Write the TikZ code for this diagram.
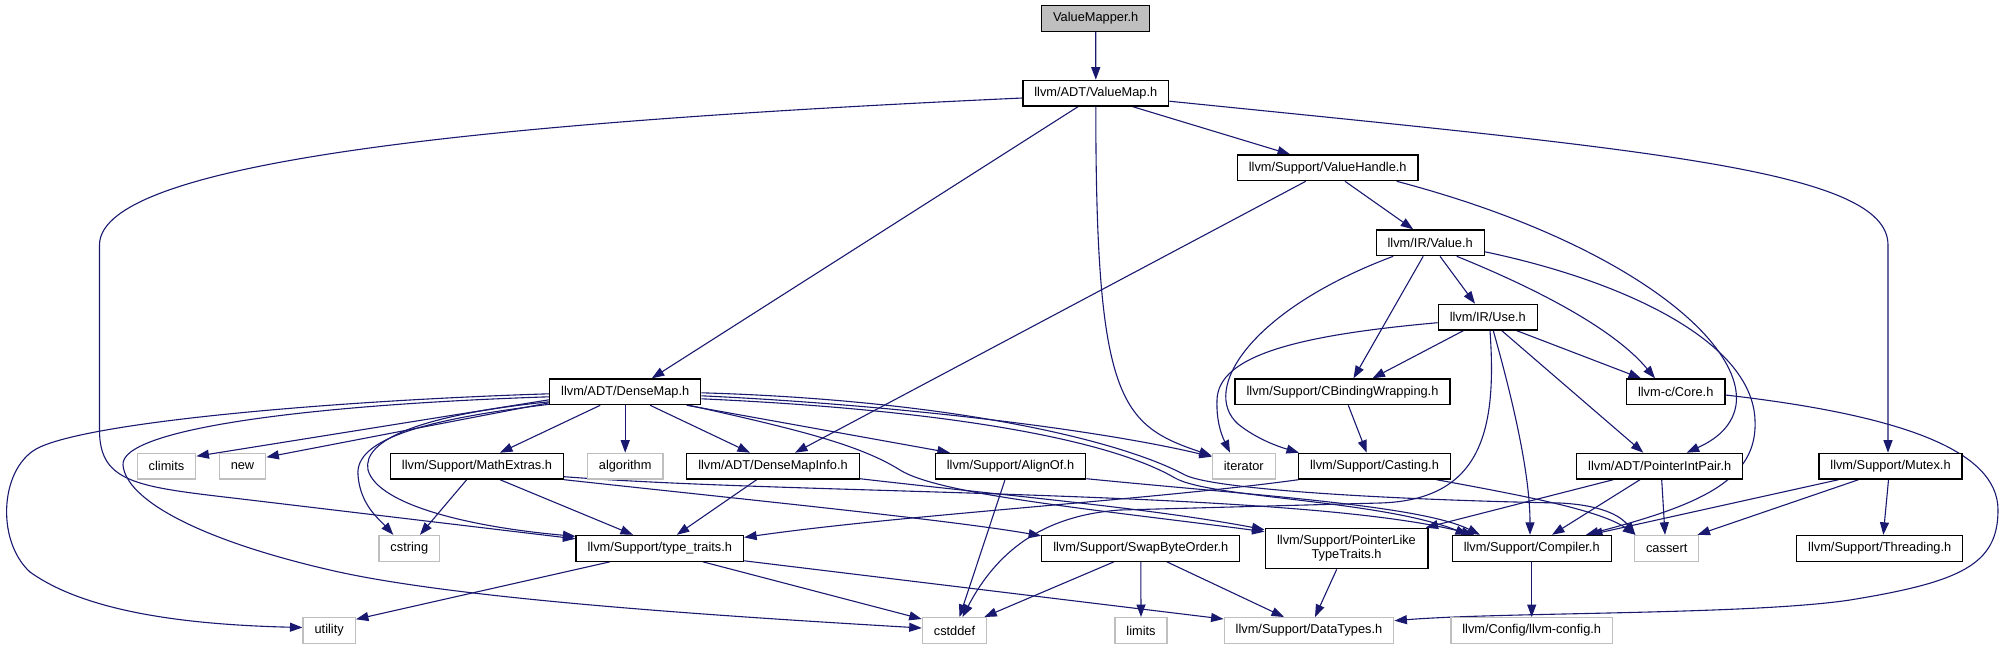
\documentclass[tikz,border=0pt]{standalone}
\usepackage{fontspec}
\setmainfont{Liberation Sans}
\usetikzlibrary{arrows.meta,backgrounds}
\definecolor{edgec}{HTML}{191970}
\definecolor{grayb}{HTML}{BFBFBF}
\begin{document}
\begin{tikzpicture}[x=1pt,y=-1pt,
  box/.style={draw=black, line width=1.3pt, fill=white, inner xsep=11.5pt, inner ysep=0pt,
    minimum height=25.7pt, font=\fontsize{12.8}{14}\selectfont, text=black, anchor=center},
  gbox/.style={box, draw=grayb},
  e/.style={draw=edgec, line width=1.1pt, -{Triangle[length=12.5pt,width=9pt]}},
]
\useasboundingbox (0,0) rectangle (2005,649);
% row 0-4
\node[box, fill=grayb] (vm) at (1095.7,18.5) {ValueMapper.h};
\node[box] (vmap) at (1095.8,93.2) {llvm/ADT/ValueMap.h};
\node[box] (vh) at (1327.7,167.8) {llvm/Support/ValueHandle.h};
\node[box] (val) at (1430.2,242.8) {llvm/IR/Value.h};
\node[box] (use) at (1487.8,317.2) {llvm/IR/Use.h};
% row 5
\node[box] (dm) at (625.2,391.8) {llvm/ADT/DenseMap.h};
\node[box] (cbw) at (1342.5,391.8) {llvm/Support/CBindingWrapping.h};
\node[box] (core) at (1675.7,391.8) {llvm-c/Core.h};
% row 6
\node[gbox] (climits) at (166.5,466.2) {climits};
\node[gbox] (new) at (242.5,466.2) {new};
\node[box] (mathx) at (477,466.2) {llvm/Support/MathExtras.h};
\node[gbox] (algo) at (625.2,466.2) {algorithm};
\node[box] (dmi) at (773,466.2) {llvm/ADT/DenseMapInfo.h};
\node[box] (alignof) at (1010.5,466.2) {llvm/Support/AlignOf.h};
\node[gbox] (iter) at (1243.8,466.2) {iterator};
\node[box] (casting) at (1374.5,466.2) {llvm/Support/Casting.h};
\node[box] (pip) at (1659.7,466.2) {llvm/ADT/PointerIntPair.h};
\node[box] (mutex) at (1890.5,466.2) {llvm/Support/Mutex.h};
% row 7
\node[gbox] (cstring) at (409.3,548.3) {cstring};
\node[box] (tt) at (659.8,548.3) {llvm/Support/type\_traits.h};
\node[box] (sbo) at (1140.8,548.3) {llvm/Support/SwapByteOrder.h};
\node[box, align=center, minimum height=40.4pt, inner xsep=12pt] (plt) at (1346.5,548.5) {llvm/Support/PointerLike\\TypeTraits.h};
\node[box] (compiler) at (1531.7,548.3) {llvm/Support/Compiler.h};
\node[gbox] (cassert) at (1666.7,548.3) {cassert};
\node[box] (threading) at (1879.7,548.3) {llvm/Support/Threading.h};
% row 8
\node[gbox] (utility) at (329.2,630.5) {utility};
\node[gbox] (cstddef) at (954.5,630.5) {cstddef};
\node[gbox] (limits) at (1141,630.5) {limits};
\node[gbox] (datatypes) at (1309,630.5) {llvm/Support/DataTypes.h};
\node[gbox] (config) at (1531.7,630.5) {llvm/Config/llvm-config.h};

\begin{pgfonlayer}{background}
% ValueMapper / ValueMap
\draw[e] (vm.south) -- (vmap.north);
\draw[e] ([xshift=37pt]vmap.south) -- ([xshift=-37.7pt]vh.north);
\draw[e] ([xshift=-17.8pt]vmap.south) -- ([xshift=26.6pt]dm.north);
\draw[e] (vmap.south) .. controls (1095.8,400) and (1120,425) .. ([yshift=-3pt]iter.north west);
\draw[e] ([yshift=-4.8pt]vmap.west) .. controls (500,122) and (99.5,160) .. (99.5,245) -- (99.5,430)
   .. controls (99.5,485) and (140,487) .. (250,500) -- ([yshift=-4pt]tt.north west);
\draw[e] ([yshift=-8pt]vmap.east) .. controls (1650,150) and (1888,170) .. (1888,245) -- ([xshift=-2.5pt]mutex.north);
% ValueHandle
\draw[e] ([xshift=-22pt]vh.south) -- ([xshift=22pt]dmi.north);
\draw[e] ([xshift=17.3pt]vh.south) -- ([xshift=-17pt]val.north);
\draw[e] ([xshift=69pt]vh.south) .. controls (1620,240) and (1745,340) .. (1736,405)
   .. controls (1732,430) and (1710,442) .. ([xshift=27pt]pip.north);
% Value
\draw[e] ([xshift=9.8pt]val.south) -- ([xshift=-12.8pt]use.north);
\draw[e] ([xshift=-7pt]val.south) -- ([xshift=11pt]cbw.north);
\draw[e] ([xshift=26.5pt]val.south) .. controls (1540,290) and (1615,330) .. ([xshift=-20.7pt]core.north);
\draw[e] ([xshift=-37pt]val.south) .. controls (1250,310) and (1200,390) .. (1238,424)
   .. controls (1258,440) and (1280,447) .. ([xshift=1pt]casting.north west);
\draw[e] ([yshift=-9pt]val.east) .. controls (1620,280) and (1752,340) .. (1755,420)
   .. controls (1758,480) and (1700,505) .. ([xshift=54.3pt]compiler.north);
% Use
\draw[e] ([xshift=-24.5pt]use.south) -- ([xshift=30pt]cbw.north);
\draw[e] ([yshift=-5.5pt]use.west) .. controls (1300,335) and (1218,355) .. (1217,400)
   .. controls (1216,425) and (1224,440) .. ([xshift=-13.8pt]iter.north);
\draw[e] ([xshift=29pt]use.south) -- ([xshift=-34.7pt]core.north);
\draw[e] ([xshift=14pt]use.south) -- ([xshift=-16.4pt]pip.north);
\draw[e] ([xshift=5.5pt]use.south) .. controls (1510,390) and (1530,470) .. ([xshift=-1.7pt]compiler.north);
\draw[e] ([xshift=2.2pt]use.south) .. controls (1497,430) and (1482,500) .. (1380,503) -- (1120,510)
   .. controls (1050,515) and (1000,545) .. ([xshift=8pt]cstddef.north);
% CBindingWrapping, Core
\draw[e] ([xshift=5.8pt]cbw.south) -- ([xshift=-7.8pt]casting.north);
\draw[e] ([yshift=-3.2pt]core.east) .. controls (1900,415) and (1998,450) .. (1998,510)
   .. controls (1998,565) and (1960,582) .. (1850,600)
   .. controls (1750,615) and (1500,612) .. ([yshift=9.8pt]datatypes.east);
% PointerIntPair, Mutex, Compiler
\draw[e] ([xshift=-46.4pt]pip.south) -- ([xshift=-3pt]plt.north east);
\draw[e] ([xshift=-19.7pt]pip.south) -- ([xshift=20.3pt]compiler.north);
\draw[e] ([xshift=2pt]pip.south) -- ([xshift=-1.7pt]cassert.north);
\draw[e] ([xshift=-52pt]mutex.south) -- ([xshift=58.3pt]compiler.north);
\draw[e] ([xshift=-32pt]mutex.south) -- ([xshift=-2pt]cassert.north east);
\draw[e] ([xshift=-2pt]mutex.south) -- ([xshift=3.6pt]threading.north);
\draw[e] (compiler.south) -- (config.north);
% Casting
\draw[e] ([xshift=-76pt]casting.south) .. controls (1150,500) and (900,515) .. ([yshift=-2.6pt]tt.north east);
\draw[e] ([xshift=62pt]casting.south) .. controls (1520,495) and (1600,510) .. ([xshift=1.4pt]cassert.north west);
% DenseMap
\draw[e] ([yshift=-8pt]dm.west) -- ([yshift=10pt]climits.east);
\draw[e] ([yshift=-11pt]dm.west) -- ([yshift=9pt]new.east);
\draw[e] ([yshift=-12.5pt]dm.west) .. controls (420,420) and (355,440) .. (358,475)
   .. controls (360,505) and (380,520) .. ([xshift=-16pt]cstring.north);
\draw[e] ([yshift=-10pt]dm.west) .. controls (420,415) and (362,440) .. (368,470)
   .. controls (378,505) and (470,527) .. ([yshift=-1.5pt]tt.north west);
\draw[e] ([yshift=-2pt]dm.west) .. controls (350,400) and (100,420) .. (40,447)
   .. controls (0,465) and (-5,540) .. (30,572)
   .. controls (90,615) and (200,625) .. ([yshift=3pt]utility.west);
\draw[e] ([yshift=-5pt]dm.west) .. controls (300,405) and (120,430) .. (123,465)
   .. controls (126,500) and (200,540) .. (330,570)
   .. controls (450,598) and (700,615) .. ([yshift=2.5pt]cstddef.west);
\draw[e] ([xshift=-25pt]dm.south) -- ([xshift=23pt]mathx.north);
\draw[e] (dm.south) -- (algo.north);
\draw[e] ([xshift=25pt]dm.south) -- ([xshift=-23pt]dmi.north);
\draw[e] ([xshift=61.5pt]dm.south) -- ([xshift=-60.6pt]alignof.north);
\draw[e] ([yshift=-4pt]dm.east) .. controls (900,405) and (1100,430) .. ([yshift=-4pt]iter.north west);
\draw[e] ([xshift=64pt]dm.south) .. controls (800,430) and (860,445) .. (900,470)
   .. controls (940,495) and (1100,510) .. ([yshift=-4pt]plt.north west);
\draw[e] ([yshift=-1pt]dm.east) .. controls (950,400) and (1120,440) .. (1185,475)
   .. controls (1215,490) and (1400,500) .. (1560,503)
   .. controls (1600,505) and (1620,515) .. ([xshift=1.4pt]cassert.north west);
\draw[e] ([yshift=-7pt]dm.east) .. controls (950,410) and (1110,440) .. (1175,478)
   .. controls (1210,498) and (1380,500) .. ([xshift=-63.7pt]compiler.north);
% MathExtras
\draw[e] ([xshift=-10.3pt]mathx.south) -- ([xshift=10.7pt]cstring.north);
\draw[e] ([xshift=23pt]mathx.south) -- ([xshift=-26.8pt]tt.north);
\draw[e] (mathx.south east) .. controls (750,500) and (950,520) .. ([yshift=-1pt]sbo.north west);
\draw[e] ([yshift=3pt]mathx.south east) .. controls (800,495) and (1300,490) .. ([xshift=-57.7pt]compiler.north);
% DenseMapInfo, AlignOf
\draw[e] ([xshift=-16.3pt]dmi.south) -- ([xshift=17pt]tt.north);
\draw[e] ([yshift=1pt]dmi.south east) .. controls (1000,495) and (1150,508) .. ([yshift=-2pt]plt.north west);
\draw[e] ([xshift=-5.5pt]alignof.south) -- ([xshift=5pt]cstddef.north);
\draw[e] ([yshift=1pt]alignof.south east) .. controls (1250,495) and (1420,505) .. ([xshift=-51.7pt]compiler.north);
% type_traits, SwapByteOrder, PointerLikeTypeTraits
\draw[e] ([xshift=-49.8pt]tt.south) -- ([yshift=-2.3pt]utility.north east);
\draw[e] ([xshift=43pt]tt.south) -- ([yshift=-2pt]cstddef.north west);
\draw[e] ([yshift=1pt]tt.south east) -- ([yshift=-2pt]datatypes.north west);
\draw[e] ([xshift=-26.8pt]sbo.south) -- ([xshift=-3pt]cstddef.north east);
\draw[e] (sbo.south) -- (limits.north);
\draw[e] ([xshift=26pt]sbo.south) -- ([xshift=-25pt]datatypes.north);
\draw[e] ([xshift=-9.8pt]plt.south) -- ([xshift=6pt]datatypes.north);
\end{pgfonlayer}
\end{tikzpicture}
\end{document}
